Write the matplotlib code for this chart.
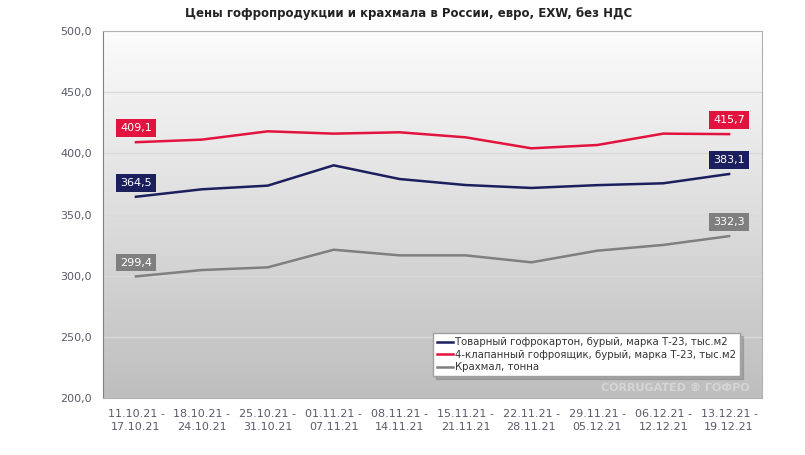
import numpy as np
import matplotlib
matplotlib.use('Agg')
from matplotlib import pyplot as plt

# week ranges
weeks = ['11.10.21 -\n17.10.21', '18.10.21 -\n24.10.21', '25.10.21 -\n31.10.21',
         '01.11.21 -\n07.11.21', '08.11.21 -\n14.11.21', '15.11.21 -\n21.11.21',
         '22.11.21 -\n28.11.21', '29.11.21 -\n05.12.21', '06.12.21 -\n12.12.21',
         '13.12.21 -\n19.12.21']

karton = [364.5, 370.6, 373.6, 390.2, 379.0, 374.1, 371.7, 374.0, 375.5, 383.1]
yashchik = [409.1, 411.2, 418.0, 416.1, 417.2, 413.1, 404.1, 406.8, 416.1, 415.7]
krakhmal = [299.4, 304.6, 306.8, 321.2, 316.6, 316.6, 310.9, 320.4, 325.1, 332.3]

names = ['Товарный гофрокартон, бурый, марка Т-23, тыс.м2',
         '4-клапанный гофроящик, бурый, марка Т-23, тыс.м2',
         'Крахмал, тонна']
colors = ['#1c1f5e', '#e2143f', '#7f7f7f']
yticks = [200, 250, 300, 350, 400, 450, 500]

def fmt(v):
    return ('%.1f' % v).replace('.', ',')

fig = plt.figure(figsize=(8.05, 4.55), dpi=100)
ax = fig.add_axes([103/805, 1-398/455, 659/805, 367/455])

x = np.arange(len(weeks))
ax.set_xlim(-0.5, len(weeks)-0.5)
ax.set_ylim(200, 500)

# gradient background, grey at the bottom to white on top
grad = np.linspace(0, 1, 256).reshape(-1, 1)
cm = matplotlib.colors.LinearSegmentedColormap.from_list('g', ['#bebebe', '#fcfcfc'])
ax.imshow(grad, cmap=cm, origin='lower', extent=[-0.5, len(weeks)-0.5, 200, 500],
          aspect='auto', zorder=0)

for t in yticks[1:-1]:
    ax.axhline(t, color='#dadada', lw=1, zorder=1)

series = [karton, yashchik, krakhmal]
for vals, c, n in zip(series, colors, names):
    ax.plot(x, vals, color=c, lw=1.8, label=n, zorder=3)
    for i in (0, len(vals)-1):
        ax.annotate(fmt(vals[i]), (x[i], vals[i]), xytext=(0, 10), textcoords='offset points',
                    ha='center', va='center', color='white', fontsize=8,
                    bbox=dict(boxstyle='square,pad=0.35', fc=c, ec='none'), zorder=4)

ax.set_yticks(yticks)
ax.set_yticklabels([fmt(t) for t in yticks], fontsize=8, color='#5a5a6a')
ax.set_xticks(x)
ax.set_xticklabels(weeks, fontsize=8, color='#5a5a6a', linespacing=1.3)
ax.tick_params(length=0, pad=8)
for s in ['top', 'right', 'bottom']:
    ax.spines[s].set_color('#b0b0b0')
ax.spines['left'].set_color('#808080')

leg = ax.legend(loc='lower right', bbox_to_anchor=(0.975, 0.045), fontsize=7.3, frameon=True,
                handlelength=1.6, handletextpad=0.2, borderpad=0.4, labelspacing=0.25,
                fancybox=False, shadow={'ox': 2, 'oy': -2, 'alpha': 0.25})
leg.get_frame().set_edgecolor('#a0a0a0')
for t in leg.get_texts():
    t.set_color('#333333')
leg.set_zorder(5)

# faint watermark
ax.text(0.755, 0.02, 'CORRUGATED \u00ae ГОФРО', transform=ax.transAxes, fontsize=8,
        color='white', alpha=0.35, fontweight='bold', zorder=2)

fig.text(0.507, 1-14/455, 'Цены гофропродукции и крахмала в России, евро, EXW, без НДС',
         ha='center', va='center', fontsize=8.5, fontweight='bold',
         family=['Liberation Sans Narrow', 'DejaVu Sans'], color='#222222')

fig.savefig('out.png', dpi=100, facecolor='white')
